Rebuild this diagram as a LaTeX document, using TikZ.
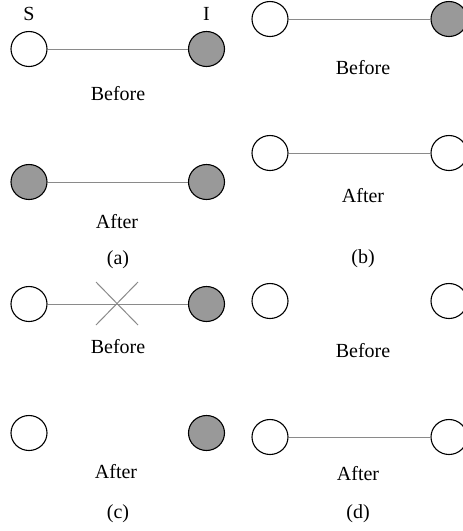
\documentclass[tikz,border=0pt]{standalone}
\usepackage{fontspec}
\setmainfont{Liberation Serif}
\definecolor{nodegray}{HTML}{999999}
\definecolor{linkgray}{HTML}{8A8A8A}
\tikzset{
  sus/.style={ellipse,draw=black,line width=1.1pt,fill=white,minimum width=36pt,minimum height=35pt,inner sep=0pt},
  inf/.style={sus,fill=nodegray},
  link/.style={draw=linkgray,line width=1pt},
  lbl/.style={anchor=base,inner sep=0pt,font=\fontsize{20}{23}\selectfont}
}
\usetikzlibrary{shapes.geometric}
\begin{document}
\begin{tikzpicture}[x=1pt,y=-1pt]
\useasboundingbox (0,0) rectangle (463,531);
% (a)
\node[lbl] (aS) at (29,20) {S};
\node[lbl] (aI) at (206.5,20) {I};
\node[sus] (a1) at (29,49) {};
\node[inf] (a2) at (206.5,49) {};
\draw[link] (a1) -- (a2);
\node[lbl] (aB) at (118,100) {Before};
\node[inf] (a3) at (29,182) {};
\node[inf] (a4) at (206.5,182) {};
\draw[link] (a3) -- (a4);
\node[lbl] (aA) at (117,228) {After};
\node[lbl] (aL) at (118,264) {(a)};
% (b)
\node[sus] (b1) at (270,19) {};
\node[inf] (b2) at (449,19) {};
\draw[link] (b1) -- (b2);
\node[lbl] (bB) at (363,74) {Before};
\node[sus] (b3) at (270,153) {};
\node[sus] (b4) at (449,153) {};
\draw[link] (b3) -- (b4);
\node[lbl] (bA) at (363,202) {After};
\node[lbl] (bL) at (363,263) {(b)};
% (c)
\node[sus] (c1) at (29,304) {};
\node[inf] (c2) at (206.5,304) {};
\draw[link] (c1) -- (c2);
\coordinate (x1) at (96,282);
\coordinate (x2) at (138,325);
\coordinate (x3) at (96,325);
\coordinate (x4) at (138,282);
\draw[link] (x1) -- (x2);
\draw[link] (x3) -- (x4);
\node[lbl] (cB) at (118,353) {Before};
\node[sus] (c3) at (29,433) {};
\node[inf] (c4) at (206.5,433) {};
\node[lbl] (cA) at (116,478) {After};
\node[lbl] (cL) at (118,518) {(c)};
% (d)
\node[sus] (d1) at (270,301) {};
\node[sus] (d2) at (449,301) {};
\node[lbl] (dB) at (363,357) {Before};
\node[sus] (d3) at (270,437) {};
\node[sus] (d4) at (449,437) {};
\draw[link] (d3) -- (d4);
\node[lbl] (dA) at (358,480) {After};
\node[lbl] (dL) at (358,518) {(d)};
\end{tikzpicture}
\end{document}
